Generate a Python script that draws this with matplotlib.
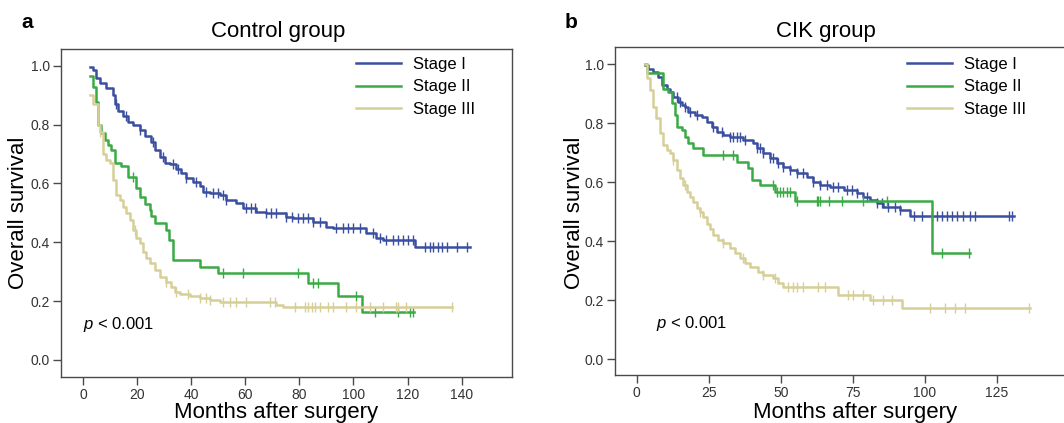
import numpy as np
import matplotlib.pyplot as plt

plt.rcParams['font.family'] = ['Liberation Sans', 'DejaVu Sans']
plt.rcParams['mathtext.fontset'] = 'custom'
plt.rcParams['mathtext.rm'] = 'Liberation Sans'
plt.rcParams['mathtext.it'] = 'Liberation Sans:italic'

stages = ['Stage I', 'Stage II', 'Stage III']
colors = ['#3b4fa0', '#3aaa45', '#d6cf98']

# ---- Control group (a) ----
ctl_t1 = [2.5, 3.7, 4.9, 6.2, 8.6, 11.1, 11.7, 13.0, 14.8, 16.7, 18.5, 21.0, 22.8, 25.3,
          26.5, 28.4, 30.2, 32.1, 34.5, 36.4, 38.2, 40.7, 43.2, 44.4, 46.9, 50.6, 53.0,
          56.7, 59.2, 64.1, 67.8, 75.2, 77.7, 85.1, 90.0, 92.5, 104.8, 108.5, 111.0, 122.7]
ctl_s1 = [0.997, 0.985, 0.96, 0.94, 0.923, 0.90, 0.87, 0.845, 0.83, 0.81, 0.80, 0.78, 0.76,
          0.74, 0.715, 0.69, 0.67, 0.665, 0.65, 0.635, 0.617, 0.606, 0.59, 0.572, 0.566,
          0.56, 0.544, 0.532, 0.515, 0.504, 0.498, 0.487, 0.481, 0.47, 0.453, 0.447, 0.43,
          0.413, 0.408, 0.385]
ctl_end1 = 143.1
ctl_c1 = [12.3, 16.0, 21.0, 25.9, 29.6, 33.3, 35.2, 38.2, 41.9, 45.6, 48.1, 50.0, 51.8, 53.0,
          60.4, 62.3, 63.5, 67.8, 69.7, 71.5, 75.2, 77.1, 79.6, 81.4, 83.3, 85.1, 87.6,
          93.7, 96.2, 98.1, 99.9, 102.4, 107.3, 109.8, 112.2, 114.7, 116.6, 118.4, 120.3,
          122.1, 126.4, 128.3, 129.5, 131.4, 132.6, 134.5, 138.2, 141.9]

ctl_t2 = [2.5, 3.7, 4.9, 5.6, 6.8, 8.0, 9.3, 10.5, 11.7, 14.2, 16.7, 19.7, 21.0, 22.8, 24.7,
          25.3, 26.6, 30.8, 32.0, 33.3, 43.2, 50.0, 83.3, 94.3, 103.0]
ctl_s2 = [0.965, 0.929, 0.878, 0.80, 0.77, 0.747, 0.73, 0.713, 0.668, 0.66, 0.623, 0.583,
          0.555, 0.53, 0.51, 0.49, 0.464, 0.442, 0.408, 0.34, 0.317, 0.294, 0.26, 0.217, 0.164]
ctl_end2 = 122.2
ctl_c2 = [18.5, 51.8, 59.2, 79.6, 85.1, 87.0, 101.1, 107.9, 116.6, 120.9, 122.1]

ctl_t3 = [2.7, 3.7, 5.6, 6.2, 7.4, 8.6, 9.9, 11.1, 12.3, 13.6, 14.8, 16.0, 17.3, 18.5, 19.7,
          21.0, 22.2, 23.4, 24.7, 26.5, 28.4, 30.8, 32.7, 33.9, 35.8, 39.5, 43.2, 46.9,
          50.6, 71.5, 74.0]
ctl_s3 = [0.90, 0.87, 0.80, 0.775, 0.70, 0.68, 0.668, 0.61, 0.56, 0.544, 0.52, 0.498, 0.476,
          0.442, 0.413, 0.396, 0.368, 0.345, 0.328, 0.306, 0.283, 0.266, 0.249, 0.232,
          0.224, 0.217, 0.212, 0.204, 0.198, 0.187, 0.179]
ctl_end3 = 136.3
ctl_c3 = [6.2, 19.1, 30.8, 34.5, 38.9, 43.2, 45.6, 46.9, 51.8, 54.3, 56.7, 60.4, 69.1, 70.9,
          78.3, 82.0, 83.3, 84.5, 85.7, 87.6, 90.7, 92.5, 97.4, 101.1, 106.1, 111.0, 115.9,
          116.6, 119.6, 136.3]

# ---- CIK group (b) ----
cik_t1 = [2.9, 4.1, 5.8, 7.5, 8.7, 10.4, 11.6, 12.7, 14.5, 15.6, 16.8, 17.9, 20.3, 22.6,
          24.3, 26.0, 27.8, 30.1, 32.4, 37.0, 40.5, 41.7, 44.0, 46.3, 48.6, 50.9, 53.2,
          55.6, 59.0, 61.3, 63.7, 67.1, 71.8, 76.4, 78.7, 81.0, 83.3, 85.6, 91.4, 94.9]
cik_s1 = [0.998, 0.986, 0.975, 0.958, 0.93, 0.918, 0.907, 0.89, 0.873, 0.862, 0.856, 0.839,
          0.828, 0.822, 0.805, 0.788, 0.771, 0.76, 0.754, 0.743, 0.732, 0.715, 0.698, 0.681,
          0.664, 0.653, 0.641, 0.63, 0.619, 0.602, 0.59, 0.585, 0.574, 0.565, 0.551, 0.54,
          0.528, 0.517, 0.506, 0.485]
cik_end1 = 130.8
cik_c1 = [13.9, 15.0, 16.8, 18.5, 20.8, 26.6, 29.5, 32.4, 33.6, 34.7, 35.9, 37.6, 41.7, 42.8,
          44.0, 46.3, 47.5, 49.2, 50.9, 53.2, 55.6, 57.9, 61.3, 63.7, 66.0, 68.3, 70.0, 72.9,
          74.7, 76.4, 79.9, 83.3, 85.1, 87.4, 89.7, 91.4, 96.1, 99.0, 102.4, 104.2, 105.9,
          107.6, 109.4, 111.1, 113.4, 115.7, 117.5, 129.1, 130.2]

cik_t2 = [2.9, 3.5, 9.3, 11.0, 12.2, 13.3, 13.9, 15.6, 16.8, 17.9, 19.7, 23.1, 34.7, 38.8,
          39.9, 42.8, 48.0, 55.0, 102.4]
cik_s2 = [1.0, 0.97, 0.918, 0.907, 0.868, 0.828, 0.788, 0.777, 0.755, 0.732, 0.715, 0.692,
          0.67, 0.647, 0.607, 0.59, 0.568, 0.535, 0.359]
cik_end2 = 115.7
cik_c2 = [30.1, 33.6, 47.5, 48.6, 49.8, 50.9, 52.1, 53.2, 55.6, 62.5, 63.1, 63.7, 66.6, 71.2,
          78.7, 86.8, 105.9, 115.2]

cik_t3 = [2.9, 3.5, 4.6, 5.8, 6.9, 8.1, 9.3, 10.4, 11.6, 12.7, 13.9, 15.0, 16.2, 17.4, 18.5,
          19.7, 20.8, 22.0, 23.1, 24.3, 25.5, 26.6, 28.4, 30.1, 32.4, 34.1, 35.9, 37.6, 39.4,
          42.2, 44.0, 47.5, 49.2, 50.9, 70.0, 81.0, 92.0]
cik_s3 = [1.0, 0.953, 0.913, 0.856, 0.817, 0.766, 0.726, 0.709, 0.698, 0.675, 0.641, 0.613,
          0.59, 0.568, 0.551, 0.534, 0.511, 0.50, 0.483, 0.46, 0.443, 0.421, 0.404, 0.393,
          0.376, 0.359, 0.342, 0.325, 0.313, 0.296, 0.285, 0.274, 0.259, 0.245, 0.217, 0.20,
          0.172]
cik_end3 = 136.6
cik_c3 = [12.7, 16.8, 22.0, 30.1, 37.0, 44.0, 48.0, 52.7, 54.4, 55.6, 57.9, 63.1, 65.4, 73.5,
          75.2, 78.7, 82.2, 85.6, 88.5, 101.9, 107.1, 110.5, 114.0, 136.0]


def draw_stage(ax, times, surv, t_end, censored, color, label):
    x = list(times) + [t_end]
    y = list(surv) + [surv[-1]]
    ax.plot(x, y, drawstyle='steps-post', color=color, lw=1.8, label=label)
    idx = np.searchsorted(times, censored, side='right') - 1
    cy = np.array(surv)[np.clip(idx, 0, None)]
    ax.plot(censored, cy, ls='none', marker='|', ms=7, mew=1.0, color=color)


def style_axes(ax, xticks, xlim, ylim):
    ax.set_xlim(*xlim)
    ax.set_ylim(*ylim)
    ax.set_xticks(xticks)
    ax.set_yticks([0.0, 0.2, 0.4, 0.6, 0.8, 1.0])
    ax.set_yticklabels(['0.0', '0.2', '0.4', '0.6', '0.8', '1.0'])
    for sp in ax.spines.values():
        sp.set_color('#4a4a4a')
        sp.set_linewidth(1.0)
    ax.tick_params(direction='out', length=6, width=1, color='#4a4a4a',
                   labelsize=10, labelcolor='#333333', pad=2)


fig = plt.figure(figsize=(10.64, 4.23), dpi=100)
W, H = 1064, 423

axa = fig.add_axes([61 / W, 1 - 377 / H, 451 / W, 328 / H])
axb = fig.add_axes([615 / W, 1 - 375 / H, 451 / W, 328 / H])

ctl = [(ctl_t1, ctl_s1, ctl_end1, ctl_c1), (ctl_t2, ctl_s2, ctl_end2, ctl_c2),
       (ctl_t3, ctl_s3, ctl_end3, ctl_c3)]
cik = [(cik_t1, cik_s1, cik_end1, cik_c1), (cik_t2, cik_s2, cik_end2, cik_c2),
       (cik_t3, cik_s3, cik_end3, cik_c3)]

for i in range(3):
    draw_stage(axa, *ctl[i], colors[i], stages[i])
    draw_stage(axb, *cik[i], colors[i], stages[i])

style_axes(axa, [0, 20, 40, 60, 80, 100, 120, 140], (-8.1, 158.6), (-0.058, 1.057))
style_axes(axb, [0, 25, 50, 75, 100, 125], (-7.5, 149.0), (-0.054, 1.059))

for ax, lx in [(axa, 356), (axb, 907)]:
    ax.legend(loc='upper left', bbox_to_anchor=(lx / W, 1 - 57 / H),
              bbox_transform=fig.transFigure, frameon=False, fontsize=12,
              handlelength=2.7, handletextpad=0.7, labelspacing=0.45,
              borderpad=0, borderaxespad=0)

axa.text(0, 0.12, r'$\it{p}$ < 0.001', fontsize=12, va='center')
axb.text(6.7, 0.12, r'$\it{p}$ < 0.001', fontsize=12, va='center')

fig.text(278 / W, 1 - 31 / H, 'Control group', fontsize=16, ha='center', va='center')
fig.text(826 / W, 1 - 31 / H, 'CIK group', fontsize=16, ha='center', va='center')
fig.text(27 / W, 1 - 23 / H, 'a', fontsize=15, fontweight='bold', ha='center', va='center')
fig.text(571 / W, 1 - 23 / H, 'b', fontsize=15, fontweight='bold', ha='center', va='center')

fig.text(19 / W, 1 - 213 / H, 'Overall survival', fontsize=16, rotation=90,
         ha='center', va='center')
fig.text(574 / W, 1 - 213 / H, 'Overall survival', fontsize=16, rotation=90,
         ha='center', va='center')
fig.text(276 / W, 1 - 402 / H, 'Months after surgery', fontsize=16, ha='center', va='top')
fig.text(855 / W, 1 - 402 / H, 'Months after surgery', fontsize=16, ha='center', va='top')

fig.savefig('out.png', dpi=100)
